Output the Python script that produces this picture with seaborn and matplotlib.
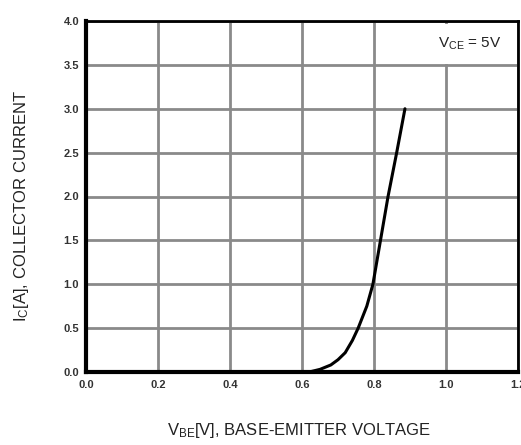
import matplotlib
matplotlib.use("Agg")
import matplotlib.pyplot as plt
import seaborn as sns
import pandas as pd

vbe = [0.620, 0.650, 0.680, 0.700, 0.720, 0.740, 0.756, 0.780, 0.797, 0.818, 0.839, 0.863, 0.886]
ic = [0.00, 0.03, 0.08, 0.14, 0.22, 0.36, 0.50, 0.75, 1.00, 1.50, 2.00, 2.50, 3.00]
x_ticks = [0.0, 0.2, 0.4, 0.6, 0.8, 1.0, 1.2]
y_ticks = [0.0, 0.5, 1.0, 1.5, 2.0, 2.5, 3.0, 3.5, 4.0]
x_tick_labels = ["0.0", "0.2", "0.4", "0.6", "0.8", "1.0", "1.2"]
y_tick_labels = ["0.0", "0.5", "1.0", "1.5", "2.0", "2.5", "3.0", "3.5", "4.0"]

sns.set_style("white")
plt.rcParams["font.family"] = ["Liberation Sans", "DejaVu Sans"]
plt.rcParams["mathtext.default"] = "regular"

df = pd.DataFrame({"vbe": vbe, "ic": ic})

fig = plt.figure(figsize=(5.21, 4.45), dpi=100)
ax = fig.add_axes([86/521, 1 - 372/445, 432/521, 351/445])

sns.lineplot(data=df, x="vbe", y="ic", ax=ax, color="black", linewidth=2.2, zorder=3)

ax.set_xlim(0, 1.2)
ax.set_ylim(0, 4.0)
ax.set_xticks(x_ticks)
ax.set_yticks(y_ticks)
ax.set_xticklabels(x_tick_labels, fontsize=8, fontweight="bold", color="#333333")
ax.set_yticklabels(y_tick_labels, fontsize=8, fontweight="bold", color="#333333")
ax.tick_params(axis="both", length=0)
ax.tick_params(axis="y", pad=5)
ax.tick_params(axis="x", pad=6)
ax.grid(True, color="#8a8a8a", linewidth=2, zorder=1)
ax.set_axisbelow(True)

for side, lw in [("left", 3), ("bottom", 3), ("top", 2), ("right", 2)]:
    ax.spines[side].set_visible(True)
    ax.spines[side].set_color("black")
    ax.spines[side].set_linewidth(lw)
    ax.spines[side].set_zorder(4)

ax.set_xlabel("V$_{BE}$[V], BASE-EMITTER VOLTAGE", fontsize=12, color="#222222")
ax.set_ylabel("I$_{C}$[A], COLLECTOR CURRENT", fontsize=12, color="#222222")
ax.xaxis.set_label_coords((299 - 86) / 432, (372 - 430) / 351)
ax.yaxis.set_label_coords((22 - 86) / 432, (372 - 206) / 351)
ax.xaxis.label.set_va("center")
ax.yaxis.label.set_va("center")

ax.text((470 - 86) / 432, (372 - 44) / 351, "V$_{CE}$ = 5V", transform=ax.transAxes,
        ha="center", va="center", fontsize=11, color="#222222", zorder=5,
        bbox=dict(facecolor="white", edgecolor="none", boxstyle="square,pad=0.8"))

fig.savefig("out.png", dpi=100)
